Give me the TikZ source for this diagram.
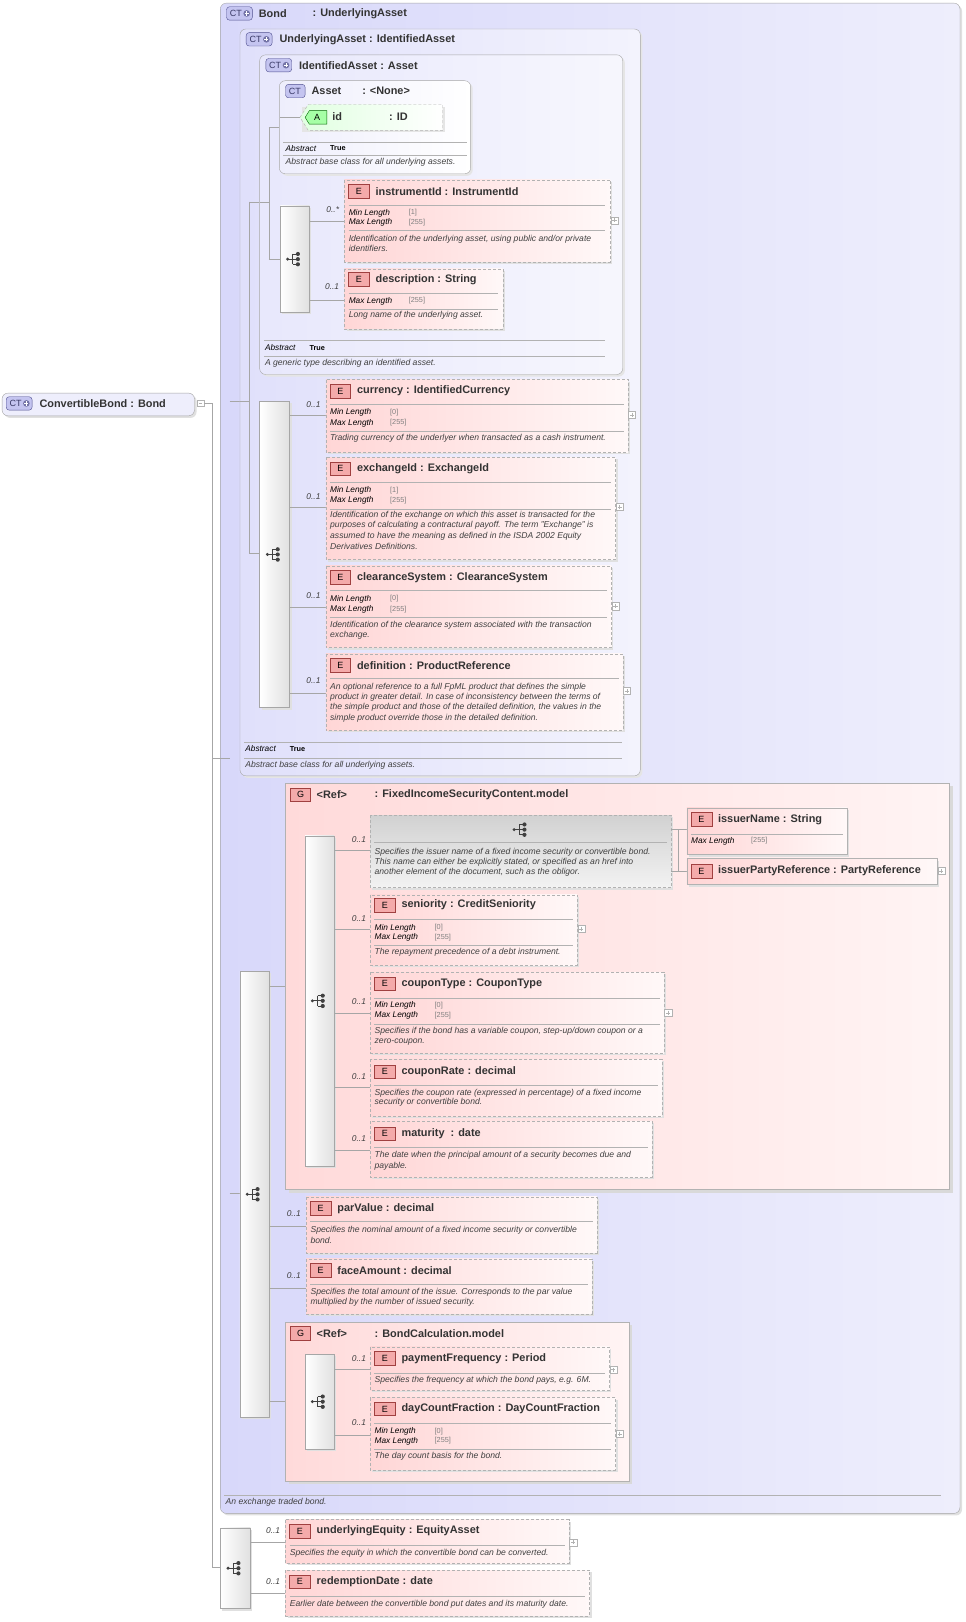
\documentclass[tikz,border=0pt]{standalone}
\usepackage{fontspec}
\setmainfont{Liberation Sans}
\definecolor{epink}{HTML}{FFD6D6}
\definecolor{ewhite}{HTML}{FFF8F8}
\definecolor{ebadge}{HTML}{F4AAAA}
\definecolor{ebadgeb}{HTML}{A04040}
\definecolor{ctfill}{HTML}{C4C4F0}
\definecolor{ctbord}{HTML}{505090}
\definecolor{lavA}{HTML}{D8D8FA}
\definecolor{lavB}{HTML}{EEEEFC}
\definecolor{gpink}{HTML}{FFDADA}
\definecolor{gwhite}{HTML}{FFF4F4}
\newcommand\EB[6]{%
 \fill[black!12] (#1+2,#2+2) rectangle (#3+2,#4+2);
 \path[left color=epink,right color=ewhite] (#1,#2) rectangle (#3,#4);
 \draw[dbord] (#1,#2) rectangle (#3,#4);
 \draw[fill=ebadge,draw=ebadgeb] (#1+4,#5-6.5) rectangle (#1+24,#5+6.5);
 \node[font=\fontsize{9}{10}\selectfont] at (#1+14,#5) {E};
 \node[tt] at (#1+30,#5) {#6};}
\newcommand\HL[3]{\draw[gray!60] (#1,#3) -- (#2,#3);}
\newcommand\PR[4]{\node[pl] at (#1,#2) {#3}; \node[pv] at (#1+58,#2) {[#4]};}
\newcommand\DS[3]{\node[ds] at (#1,#2) {#3};}
\newcommand\PL[2]{\draw[gray!60,fill=white] (#1-3.5,#2-3.5) rectangle (#1+3.5,#2+3.5); \draw[gray!60] (#1-2,#2)--(#1+2,#2) (#1,#2-2)--(#1,#2+2);}
\newcommand\SI[2]{%
 \fill[black!75] (#1-7,#2) circle (1.6) (#1+3,#2-5) circle (2) (#1+3,#2) circle (2) (#1+3,#2+5) circle (2);
 \draw[black!75,line width=0.8] (#1-7,#2)--(#1-2,#2) (#1-2,#2-5)--(#1-2,#2+5) (#1-2,#2-5)--(#1+3,#2-5) (#1-2,#2+5)--(#1+3,#2+5) (#1-2,#2)--(#1+3,#2);}
\newcommand\SQ[4]{%
 \fill[black!12] (#1+2,#2+2) rectangle (#3+2,#4+2);
 \path[left color=white,right color=black!12] (#1,#2) rectangle (#3,#4);
 \draw[gray!70] (#1,#2) rectangle (#3,#4);
 \pgfmathsetmacro\sqcx{(#1+#3)/2}\pgfmathsetmacro\sqcy{(#2+#4)/2}%
 \SI{\sqcx}{\sqcy}}
\newcommand\CTB[3]{%
 \draw[fill=ctfill,draw=ctbord,rounded corners=3] (#1,#2-6.5) rectangle (#1+#3,#2+6.5);
 \node[font=\fontsize{9}{10}\selectfont,text=ctbord!70!black,anchor=west,inner sep=0] at (#1+3,#2) {CT};}
\newcommand\CTP[2]{\CTB{#1}{#2}{25}\fill[ctbord!80] (#1+19.5,#2) circle (3.2); \draw[white,line width=0.9] (#1+17.5,#2)--(#1+21.5,#2) (#1+19.5,#2-2)--(#1+19.5,#2+2);}
\newcommand\MU[3]{\node[mu] at (#1,#2) {#3};}
\newcommand\GB[2]{\draw[fill=ebadge,draw=ebadgeb] (#1,#2-6.5) rectangle (#1+19,#2+6.5); \node[font=\fontsize{9}{10}\selectfont] at (#1+9.5,#2) {G};}
\begin{document}
\begin{tikzpicture}[x=1.0343pt,y=-1.0343pt,
 tt/.style={anchor=west,inner sep=0,font=\fontsize{10.9}{12}\selectfont\bfseries,text=black!80},
 pl/.style={anchor=west,inner sep=0,font=\fontsize{8.3}{9}\selectfont\itshape},
 pv/.style={anchor=west,inner sep=0,font=\fontsize{7.3}{8}\selectfont,text=gray},
 ds/.style={anchor=west,inner sep=0,font=\fontsize{8.6}{9}\selectfont\itshape,text=black!75},
 mu/.style={anchor=east,inner sep=0,font=\fontsize{8.4}{9}\selectfont\itshape,text=black!75},
 dbord/.style={gray!60,dash pattern=on 3pt off 2pt},
 cn/.style={gray!70}]
\useasboundingbox (0,0) rectangle (933,1568);
\fill[white] (0,0) rectangle (933,1568);
% ConvertibleBond
\fill[black!12,rounded corners=6] (4,382) rectangle (190,404);
\draw[fill=lavB,draw=gray!70,rounded corners=6] (2,380) rectangle (188,402);
\CTP{6}{390}
\node[tt] at (38,390) {ConvertibleBond : Bond};
\draw[gray!60,fill=white] (191,387) rectangle (197,393); \draw[gray!60] (192.5,390)--(195.5,390);
% tree lines top-level
\draw[cn] (197,390)--(205,390) (205,390)--(205,1515) (205,733)--(222,733) (222,388)--(222,1153) (205,1515)--(213,1515);
% Bond container
\fill[black!12,rounded corners=6] (215,5) rectangle (930,1465);
\path[left color=lavA,right color=lavB,rounded corners=6] (213,3) rectangle (928,1463);
\draw[gray!70,rounded corners=6] (213,3) rectangle (928,1463);
\draw[cn] (213,733)--(222,733) (222,388)--(232,388) (222,1153)--(232,1153);
\CTP{219}{13}
\node[tt] at (250,13) {Bond}; \node[tt] at (302,13) {: UnderlyingAsset};
\HL{217}{910}{1445}
\DS{218}{1452}{An exchange traded bond.}
% UnderlyingAsset
\fill[black!10,rounded corners=6] (234,30) rectangle (621,752);
\path[left color=lavA!80!white,right color=lavB!70!white,rounded corners=6] (232,28) rectangle (619,750);
\draw[gray!70,rounded corners=6] (232,28) rectangle (619,750);
\CTP{238}{38}
\node[tt] at (270,38) {UnderlyingAsset : IdentifiedAsset};
\draw[cn] (232,388)--(241,388) (241,195)--(241,535) (241,195)--(251,195) (241,535)--(251,535);
\HL{236}{601}{717}
\node[pl] at (237,724) {Abstract}; \node[pv,text=black,font=\fontsize{7.3}{8}\selectfont\bfseries] at (280,724) {True};
\HL{236}{601}{733}
\DS{237}{740}{Abstract base class for all underlying assets.}
% IdentifiedAsset
\fill[black!10,rounded corners=6] (253,55) rectangle (604,364);
\path[left color=lavA!60!white,right color=lavB!50!white,rounded corners=6] (251,53) rectangle (602,362);
\draw[gray!70,rounded corners=6] (251,53) rectangle (602,362);
\CTP{257}{63}
\node[tt] at (289,63) {IdentifiedAsset : Asset};
\draw[cn] (251,195)--(260,195) (260,123)--(260,251) (260,123)--(270,123) (260,251)--(271,251);
\HL{255}{585}{329}
\node[pl] at (256,336) {Abstract}; \node[pv,text=black,font=\fontsize{7.3}{8}\selectfont\bfseries] at (299,336) {True};
\HL{255}{585}{344}
\DS{256}{351}{A generic type describing an identified asset.}
% Asset
\fill[black!10,rounded corners=6] (272,80) rectangle (457,170);
\path[left color=lavB,right color=white,rounded corners=6] (270,78) rectangle (455,168);
\draw[gray!70,rounded corners=6] (270,78) rectangle (455,168);
\CTB{276}{88}{19}
\node[tt] at (301,88) {Asset}; \node[tt] at (350,88) {: <None>};
\draw[cn] (271,113)--(290,113);
\fill[black!10] (292,103) rectangle (430,128);
\path[left color=green!12,right color=white,dash pattern=on 3pt off 2pt,draw=gray!60] (298,101)--(428,101)--(428,126)--(298,126)--(290,113.5)--cycle;
\draw[fill=green!35,draw=green!40!black] (299,107)--(316,107)--(316,120)--(299,120)--(295,113.5)--cycle;
\node[font=\fontsize{9}{10}\selectfont] at (306.5,113.5) {A};
\node[tt] at (321,113) {id}; \node[tt] at (376,113) {: ID};
\HL{274}{451}{137}
\node[pl] at (276,143.5) {Abstract}; \node[pv,text=black,font=\fontsize{7.3}{8}\selectfont\bfseries] at (319,143.5) {True};
\HL{274}{451}{150}
\DS{276}{157}{Abstract base class for all underlying assets.}
% IdentifiedAsset sequence
\SQ{271}{199}{299}{302}
\draw[cn] (299,214)--(333,214) (299,290)--(333,290);
\MU{328}{203}{0..*} \MU{328}{277}{0..1}
\EB{333}{174}{590}{253}{185}{instrumentId : InstrumentId}
\HL{337}{585}{198} \PR{337}{206}{Min Length}{1} \PR{337}{215}{Max Length}{255} \HL{337}{585}{223}
\DS{337}{231}{Identification of the underlying asset, using public and/or private}
\DS{337}{240}{identifiers.}
\PL{594}{213}
\EB{333}{260}{486}{318}{270}{description : String}
\HL{337}{481}{283} \PR{337}{291}{Max Length}{255} \HL{337}{481}{299}
\DS{337}{305}{Long name of the underlying asset.}
% UnderlyingAsset sequence
\SQ{251}{388}{280}{684}
\draw[cn] (280,401)--(315,401) (280,490)--(315,490) (280,587)--(315,587) (280,670)--(315,670);
\MU{310}{391}{0..1} \MU{310}{480}{0..1} \MU{310}{576}{0..1} \MU{310}{658}{0..1}
\EB{315}{367}{607}{437}{378}{currency : IdentifiedCurrency}
\HL{319}{603}{391} \PR{319}{399}{Min Length}{0} \PR{319}{409}{Max Length}{255} \HL{319}{603}{417}
\DS{319}{424}{Trading currency of the underlyer when transacted as a cash instrument.}
\PL{611}{401}
\EB{315}{442}{595}{541}{453}{exchangeId : ExchangeId}
\HL{319}{591}{466} \PR{319}{474}{Min Length}{1} \PR{319}{484}{Max Length}{255} \HL{319}{591}{492}
\DS{319}{498}{Identification of the exchange on which this asset is transacted for the}
\DS{319}{508}{purposes of calculating a contractural payoff. The term "Exchange" is}
\DS{319}{518}{assumed to have the meaning as defined in the ISDA 2002 Equity}
\DS{319}{528}{Derivatives Definitions.}
\PL{599}{490}
\EB{315}{547}{591}{626}{558}{clearanceSystem : ClearanceSystem}
\HL{319}{587}{571} \PR{319}{579}{Min Length}{0} \PR{319}{589}{Max Length}{255} \HL{319}{587}{597}
\DS{319}{604}{Identification of the clearance system associated with the transaction}
\DS{319}{614}{exchange.}
\PL{595}{586}
\EB{315}{632}{602}{706}{643}{definition : ProductReference}
\HL{319}{598}{656}
\DS{319}{664}{An optional reference to a full FpML product that defines the simple}
\DS{319}{674}{product in greater detail. In case of inconsistency between the terms of}
\DS{319}{684}{the simple product and those of the detailed definition, the values in the}
\DS{319}{694}{simple product override those in the detailed definition.}
\PL{606}{668}
% Bond sequence
\SQ{232}{939}{260}{1370}
\draw[cn] (260,953)--(276,953) (260,1185)--(296,1185) (260,1245)--(296,1245) (260,1355)--(276,1355);
\MU{291}{1173}{0..1} \MU{291}{1233}{0..1}
% FixedIncome group
\fill[black!15] (279,760) rectangle (921,1153);
\path[left color=gpink,right color=gwhite] (276,757) rectangle (918,1150);
\draw[gray!60] (276,757) rectangle (918,1150);
\GB{281}{768}
\node[tt] at (306,768) {<Ref>}; \node[tt] at (362,768) {: FixedIncomeSecurityContent.model};
\SQ{295}{808}{323}{1127}
\draw[cn] (323,822)--(358,822) (323,898)--(358,898) (323,979)--(358,979) (323,1051)--(358,1051) (323,1112)--(358,1112);
\MU{354}{812}{0..1} \MU{354}{888}{0..1} \MU{354}{968}{0..1} \MU{354}{1041}{0..1} \MU{354}{1101}{0..1}
\fill[black!12] (360,790) rectangle (651,860);
\path[top color=black!18,bottom color=black!5] (358,788) rectangle (649,858);
\draw[dbord] (358,788) rectangle (649,858);
\SI{504}{802}
\HL{362}{645}{814}
\DS{362}{824}{Specifies the issuer name of a fixed income security or convertible bond.}
\DS{362}{834}{This name can either be explicitly stated, or specified as an href into}
\DS{362}{843}{another element of the document, such as the obligor.}
\draw[cn] (649,802)--(664,802) (649,842)--(664,842) (656,802)--(656,842);
\fill[black!12] (666,783) rectangle (821,828);
\path[left color=epink,right color=ewhite] (664,781) rectangle (819,826);
\draw[gray!60] (664,781) rectangle (819,826);
\draw[fill=ebadge,draw=ebadgeb] (668,785.5) rectangle (688,798.5); \node[font=\fontsize{9}{10}\selectfont] at (678,792) {E};
\node[tt] at (694,792) {issuerName : String};
\HL{668}{815}{806} \PR{668}{813}{Max Length}{255}
\fill[black!12] (666,832) rectangle (908,857);
\path[left color=epink,right color=ewhite] (664,830) rectangle (906,855);
\draw[gray!60] (664,830) rectangle (906,855);
\draw[fill=ebadge,draw=ebadgeb] (668,835.5) rectangle (688,848.5); \node[font=\fontsize{9}{10}\selectfont] at (678,842) {E};
\node[tt] at (694,842) {issuerPartyReference : PartyReference};
\PL{910}{842}
\EB{358}{865}{558}{933}{875}{seniority : CreditSeniority}
\HL{362}{554}{889} \PR{362}{897}{Min Length}{0} \PR{362}{906}{Max Length}{255} \HL{362}{554}{914}
\DS{362}{921}{The repayment precedence of a debt instrument.}
\PL{562}{898}
\EB{358}{940}{642}{1018}{951}{couponType : CouponType}
\HL{362}{638}{965} \PR{362}{972}{Min Length}{0} \PR{362}{982}{Max Length}{255} \HL{362}{638}{990}
\DS{362}{997}{Specifies if the bond has a variable coupon, step-up/down coupon or a}
\DS{362}{1007}{zero-coupon.}
\PL{646}{979}
\EB{358}{1024}{640}{1079}{1036}{couponRate : decimal}
\HL{362}{636}{1049}
\DS{362}{1057}{Specifies the coupon rate (expressed in percentage) of a fixed income}
\DS{362}{1066}{security or convertible bond.}
\EB{358}{1084}{630}{1138}{1096}{maturity \ : date}
\HL{362}{626}{1109}
\DS{362}{1117}{The date when the principal amount of a security becomes due and}
\DS{362}{1127}{payable.}
% parValue faceAmount
\EB{296}{1157}{577}{1211}{1168}{parValue : decimal}
\HL{300}{573}{1181}
\DS{300}{1189}{Specifies the nominal amount of a fixed income security or convertible}
\DS{300}{1199}{bond.}
\EB{296}{1217}{572}{1270}{1228}{faceAmount : decimal}
\HL{300}{568}{1241}
\DS{300}{1249}{Specifies the total amount of the issue. Corresponds to the par value}
\DS{300}{1259}{multiplied by the number of issued security.}
% BondCalculation group
\fill[black!15] (279,1281) rectangle (611,1435);
\path[left color=gpink,right color=gwhite] (276,1278) rectangle (608,1432);
\draw[gray!60] (276,1278) rectangle (608,1432);
\GB{281}{1289}
\node[tt] at (306,1289) {<Ref>}; \node[tt] at (362,1289) {: BondCalculation.model};
\SQ{295}{1309}{323}{1401}
\draw[cn] (323,1324)--(358,1324) (323,1387)--(358,1387);
\MU{354}{1313}{0..1} \MU{354}{1375}{0..1}
\EB{358}{1302}{589}{1344}{1313}{paymentFrequency : Period}
\HL{362}{585}{1327}
\DS{362}{1334}{Specifies the frequency at which the bond pays, e.g. 6M.}
\PL{593}{1324}
\EB{358}{1351}{595}{1421}{1362}{dayCountFraction : DayCountFraction}
\HL{362}{591}{1376} \PR{362}{1384}{Min Length}{0} \PR{362}{1393}{Max Length}{255} \HL{362}{591}{1401}
\DS{362}{1408}{The day count basis for the bond.}
\PL{599}{1386}
% bottom sequence
\SQ{213}{1477}{242}{1555}
\draw[cn] (242,1491)--(276,1491) (242,1540)--(276,1540);
\MU{271}{1480}{0..1} \MU{271}{1529}{0..1}
\EB{276}{1469}{550}{1511}{1480}{underlyingEquity : EquityAsset}
\HL{280}{546}{1494}
\DS{280}{1502}{Specifies the equity in which the convertible bond can be converted.}
\PL{554}{1491}
\EB{276}{1518}{570}{1562}{1529}{redemptionDate : date}
\HL{280}{566}{1543}
\DS{280}{1551}{Earlier date between the convertible bond put dates and its maturity date.}
\end{tikzpicture}
\end{document}
